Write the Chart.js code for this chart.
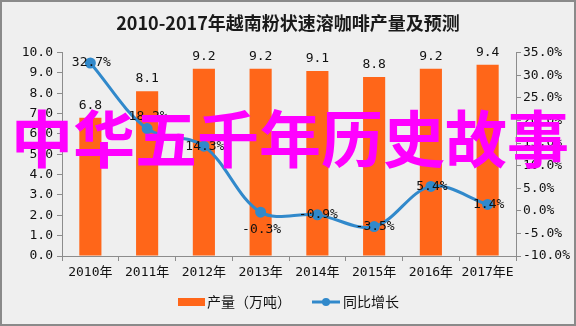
<!DOCTYPE html>
<html>
<head>
<meta charset="utf-8">
<script src="https://cdn.jsdelivr.net/npm/chart.js@4.4.1/dist/chart.umd.min.js"></script>
<style>
  html, body { margin: 0; padding: 0; background: #efefef; }
  #wrap { position: relative; width: 576px; height: 326px; }
  #banner {
    position: absolute; left: 0; top: 105px; width: 580px;
    text-align: center; font: bold 62px/1 "Noto Sans CJK SC", sans-serif;
    color: #ff00ff; white-space: nowrap; pointer-events: none;
  }
</style>
</head>
<body>
<div id="wrap">
  <canvas id="myChart" width="576" height="326"></canvas>
  <div id="banner">中华五千年历史故事</div>
</div>
<script>
const years = ['2010年', '2011年', '2012年', '2013年', '2014年', '2015年', '2016年', '2017年E'];
const output = [6.8, 8.1, 9.2, 9.2, 9.1, 8.8, 9.2, 9.4];      // 万吨
const growth = [32.7, 18.2, 14.3, -0.3, -0.9, -3.5, 5.4, 1.4]; // %
const seriesNames = ['产量（万吨）', '同比增长'];

const MONO = '"DejaVu Sans Mono", "Noto Sans CJK SC", monospace';
const CJK = '"Noto Sans CJK SC", sans-serif';
const ORANGE = '#ff6619';
const BLUE = '#3189cb';
const AXIS = '#8c8c8c';

// background + frame
const frame = {
  id: 'frame',
  beforeDraw(chart) {
    const ctx = chart.ctx;
    ctx.save();
    ctx.fillStyle = '#efefef';
    ctx.fillRect(0, 0, chart.width, chart.height);
    ctx.strokeStyle = '#8a8a8a';
    ctx.lineWidth = 2;
    ctx.strokeRect(1, 1, chart.width - 2, chart.height - 2);
    ctx.restore();
  }
};

// value labels on bars and line points
const valueLabels = {
  id: 'valueLabels',
  afterDatasetsDraw(chart) {
    const ctx = chart.ctx;
    ctx.save();
    ctx.font = '13px ' + MONO;
    ctx.fillStyle = '#111';
    ctx.textAlign = 'center';

    ctx.textBaseline = 'bottom';
    chart.getDatasetMeta(0).data.forEach((bar, i) => {
      ctx.fillText(output[i].toFixed(1), bar.x, bar.y - 6);
    });

    const nudge = { 1: -12, 3: 17 };
    ctx.textBaseline = 'middle';
    chart.getDatasetMeta(1).data.forEach((pt, i) => {
      ctx.fillText(growth[i].toFixed(1) + '%', pt.x + 1, pt.y + (nudge[i] || 0));
    });
    ctx.restore();
  }
};

// legend row under the axis
const bottomLegend = {
  id: 'bottomLegend',
  afterDraw(chart) {
    const ctx = chart.ctx;
    const y = 302;
    ctx.save();
    ctx.fillStyle = ORANGE;
    ctx.fillRect(178, y - 4, 27, 8);
    ctx.font = '14px ' + CJK;
    ctx.fillStyle = '#111';
    ctx.textBaseline = 'middle';
    ctx.fillText(seriesNames[0], 207, y);

    ctx.strokeStyle = BLUE;
    ctx.lineWidth = 3;
    ctx.beginPath();
    ctx.moveTo(312, y);
    ctx.lineTo(340, y);
    ctx.stroke();
    ctx.fillStyle = BLUE;
    ctx.beginPath();
    ctx.arc(326, y, 4, 0, Math.PI * 2);
    ctx.fill();
    ctx.fillStyle = '#111';
    ctx.fillText(seriesNames[1], 343, y);
    ctx.restore();
  }
};

new Chart(document.getElementById('myChart'), {
  data: {
    labels: years,
    datasets: [
      {
        type: 'bar',
        label: seriesNames[0],
        data: output,
        yAxisID: 'y',
        backgroundColor: ORANGE,
        categoryPercentage: 1,
        barPercentage: 0.39,
        order: 1
      },
      {
        type: 'line',
        label: seriesNames[1],
        data: growth,
        yAxisID: 'y1',
        borderColor: BLUE,
        backgroundColor: BLUE,
        borderWidth: 3,
        pointRadius: 4,
        pointHoverRadius: 4,
        tension: 0.35,
        order: 0
      }
    ]
  },
  options: {
    responsive: false,
    animation: false,
    layout: { padding: 0 },
    plugins: {
      legend: { display: false },
      tooltip: { enabled: false },
      title: {
        display: true,
        text: '2010-2017年越南粉状速溶咖啡产量及预测',
        color: '#1a1a1a',
        font: { family: CJK, size: 18, weight: 'bold' },
        padding: { top: 12, bottom: 19 }
      }
    },
    scales: {
      x: {
        afterFit: s => { s.height = 70; },
        grid: { offset: true, drawOnChartArea: false, tickLength: 5, color: AXIS },
        border: { color: AXIS },
        ticks: { padding: 4, color: '#111', font: { family: MONO, size: 13 }, maxRotation: 0 }
      },
      y: {
        position: 'left',
        min: 0, max: 10,
        afterFit: s => { s.width = 62; },
        grid: { drawOnChartArea: false, tickLength: 5, color: AXIS },
        border: { color: AXIS },
        ticks: { stepSize: 1, padding: 4, color: '#111', font: { family: MONO, size: 13 },
                 callback: v => v.toFixed(1) }
      },
      y1: {
        position: 'right',
        min: -10, max: 35,
        afterFit: s => { s.width = 60; },
        grid: { drawOnChartArea: false, tickLength: 5, color: AXIS },
        border: { color: AXIS },
        ticks: { stepSize: 5, padding: 2, color: '#111', font: { family: MONO, size: 13 },
                 callback: v => v.toFixed(1) + '%' }
      }
    }
  },
  plugins: [frame, valueLabels, bottomLegend]
});
</script>
</body>
</html>
